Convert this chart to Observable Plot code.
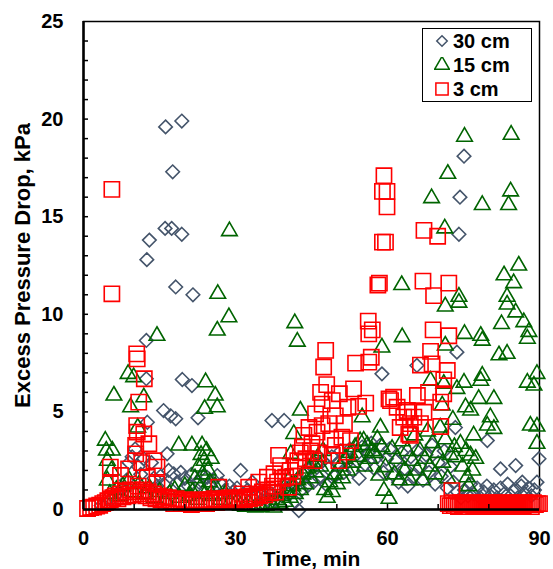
<!DOCTYPE html>
<html><head><meta charset="utf-8">
<script src="https://cdn.jsdelivr.net/npm/d3@7"></script>
<script src="https://cdn.jsdelivr.net/npm/@observablehq/plot@0.6"></script>
<style>
body{margin:0;background:#fff;}
#wrap{position:relative;width:553px;height:569px;font-family:"Liberation Sans",Arial,sans-serif;}
#legend{position:absolute;left:422px;top:28px;width:110px;height:74px;box-sizing:border-box;border:1.5px solid #000;background:#fff;}
.row{height:24px;line-height:24px;display:flex;align-items:center;font-weight:bold;font-size:20px;color:#000;}
.row svg{margin-left:11px;margin-right:3px;}
</style>
</head><body>
<div id="wrap"><div id="legend"></div></div>
<script>
// ---- data (time in min, excess pressure drop in kPa) ----
const seriesNames = ["30 cm", "15 cm", "3 cm"];
const xTicks = [0, 30, 60, 90];
const yTicks = [0, 5, 10, 15, 20, 25];
const xMinor = [10, 20, 30, 40, 50, 60, 70, 80];
const yMinor = [1,2,3,4,5,6,7,8,9,10,11,12,13,14,15,16,17,18,19,20,21,22,23,24];
const xTitle = "Time, min";
const yTitle = "Excess Pressure Drop, kPa";

const s30 = [
[3.5,0.2],[4.5,0.3],[5.5,0.5],[6.3,0.7],[7.0,0.9],[7.8,1.1],[8.5,1.5],[9.0,2.4],[9.6,2.7],[10.2,3.1],[10.8,2.2],[11.3,1.8],[11.9,2.6],[12.6,4.47],[12.4,6.7],[12.4,8.66],[12.5,12.8],[13.0,13.8],[13.4,2.4],[13.9,1.6],[14.5,1.2],
[15.8,5.07],[16.1,14.4],[16.2,19.6],[16.5,2.85],[17.2,4.8],[17.4,14.4],[17.6,17.3],[18.2,4.65],[18.2,11.4],[19.4,14.1],[19.4,19.9],[19.5,6.66],[21.4,6.35],[21.6,11.0],[22.6,4.7],
[15.2,1.7],[15.9,1.3],[16.8,2.0],[17.8,1.83],[18.5,1.4],[19.2,1.9],[20.0,1.6],[20.7,1.2],[21.3,1.8],[22.0,1.1],[22.8,1.4],[23.5,1.7],[24.4,1.65],[25.0,1.2],[25.7,1.5],[26.4,1.74],[27.2,1.3],[28.0,1.0],[28.8,1.2],[29.5,0.9],[30.3,1.1],[31.0,2.0],[31.6,0.8],[32.4,1.0],[33.3,1.4],[34.0,0.7],[34.8,0.9],[35.6,0.6],
[37.2,4.56],[39.6,4.56],[36.4,0.5],[37.0,0.8],[37.8,0.5],[38.5,1.0],[39.2,0.7],[40.0,1.1],[40.6,0.8],[41.2,1.3],[41.8,0.4],[42.4,1.6],[42.5,-0.05],[43.0,1.0],[43.6,1.9],[44.2,1.2],[44.8,2.1],[45.4,1.4],[46.0,2.3],[46.6,1.6],[47.2,2.5],[47.8,1.3],[48.4,2.1],[49.0,2.7],[49.6,1.7],[50.2,2.4],[50.8,3.0],[51.4,1.9],[52.0,2.6],[52.6,3.1],[53.2,2.0],[53.8,2.8],[54.4,1.6],[55.0,3.2],[55.6,2.3],[56.2,2.9],[56.8,3.4],[57.4,2.1],[58.0,2.7],[58.6,3.3],[58.9,6.95],[59.2,1.9],[59.8,2.6],[60.4,3.1],[61.0,1.8],[61.6,2.5],[62.2,1.4],[62.8,2.9],[63.4,2.1],[64.0,1.2],[64.6,2.7],[65.2,1.7],[65.8,7.38],[65.8,3.0],[66.4,2.2],[67.0,1.5],[67.6,2.8],[68.2,1.9],[68.8,3.3],[69.4,1.3],[70.0,2.4],[70.6,1.7],[71.2,3.0],[71.8,1.1],[72.4,2.2],[73.0,1.4],[73.4,4.2],[73.7,8.06],[74.1,14.1],[74.3,16.0],[75.1,18.1],[73.8,0.9],
[74.5,0.6],[75.2,1.0],[75.9,0.7],[76.4,1.3],[77.0,0.8],[77.7,1.1],[78.3,0.6],[79.0,0.9],[79.7,3.53],[79.6,1.2],[80.3,0.7],[81.0,1.0],[81.6,0.6],[82.3,2.08],[82.3,1.1],[83.0,0.8],[83.7,1.3],[84.3,0.7],[85.0,1.0],[85.3,2.25],[85.7,0.6],[86.4,1.2],[86.6,1.4],[87.1,0.8],[87.8,1.1],[88.4,0.7],[89.0,1.0],[89.5,1.4],[89.9,2.6]
];

const s15 = [
[4.3,3.53],[4.5,3.02],[5.7,3.02],[4.7,2.5],[4.7,1.49],[5.5,2.0],[6.0,5.84],[5.2,0.8],[6.5,1.0],[7.2,0.7],[7.8,1.2],[8.8,6.95],[9.9,6.78],[9.3,5.24],[10.7,4.2],[11.9,5.75],[14.5,8.9],[9.0,1.5],[10.0,0.9],[11.0,1.3],[12.0,0.8],[13.0,1.1],[14.0,0.6],[15.0,0.9],[16.0,0.5],[17.0,0.8],
[18.8,3.28],[21.4,3.28],[23.4,3.28],[24.1,6.52],[26.0,5.84],[23.9,5.16],[26.4,5.24],[26.4,9.17],[28.7,9.85],[26.5,11.05],[28.8,14.26],
[18.0,1.0],[19.0,0.6],[20.0,1.2],[20.8,0.7],[21.5,0.9],[22.0,1.6],[22.4,0.5],[22.7,2.2],[23.0,1.1],[23.2,2.8],[23.5,1.8],[23.8,2.5],[24.0,0.8],[24.3,3.0],[24.6,2.0],[24.9,1.4],[25.2,2.6],[25.5,0.7],[26.0,1.2],[27.0,0.5],[28.0,0.8],[29.0,0.4],[30.0,0.3],[31.0,0.2],[32.0,0.15],[33.0,0.2],[34.0,0.1],[35.0,0.15],[36.0,0.2],
[37.0,0.3],[37.6,0.1],[38.2,0.5],[38.8,0.3],[39.3,0.7],[39.8,0.4],[40.3,0.9],[40.5,1.49],[40.9,2.85],[41.5,3.87],[41.7,9.55],[42.2,8.6],[42.8,5.07],[40.8,0.6],[41.3,1.2],[41.8,0.8],[42.3,1.5],[42.8,1.0],[43.3,1.8],[43.8,1.3],[44.3,2.1],[44.8,1.6],[45.3,2.4],[45.8,1.9],[46.3,2.7],[46.8,2.2],[47.3,3.0],[47.6,1.0],[48.1,0.6],[48.6,1.4],[49.1,0.9],[49.6,1.8],[50.1,1.3],[50.6,2.2],[51.1,1.6],[51.6,2.6],[52.1,2.0],[52.6,2.9],[53.1,2.4],[53.6,3.2],[54.1,2.7],[54.6,3.5],[55.0,4.73],[55.3,3.53],[55.5,2.2],[56.0,3.3],[56.5,2.6],[57.0,3.0],[57.5,2.9],[58.0,3.6],[58.3,1.74],[58.6,4.2],[58.9,8.3],[58.9,3.2],[59.3,0.97],[59.6,2.17],[60.3,0.55],[60.9,3.1],[61.4,1.8],[61.9,2.6],[62.4,1.5],[62.8,11.5],[62.9,8.83],[62.9,3.5],[63.4,2.0],[63.9,3.0],[64.4,1.5],[64.9,2.5],[65.4,3.8],[65.9,2.0],[66.4,3.0],[66.9,1.5],[67.4,2.6],[67.9,4.0],[68.4,2.2],[68.5,6.6],[68.7,15.95],[68.9,3.4],[69.4,1.8],[69.9,2.9],[70.4,4.2],[70.8,5.33],[70.9,2.4],[71.1,6.44],[71.3,14.4],[71.4,8.4],[71.4,10.4],[71.4,3.6],[71.9,17.2],[71.9,1.6],[72.4,2.8],[72.9,4.6],[73.2,3.2],[73.4,2.68],[73.7,6.18],[74.1,10.6],[74.1,10.9],[74.4,3.37],[74.8,2.2],[75.1,6.5],[75.2,9.0],[75.2,19.1],[75.4,5.24],[75.5,3.0],[75.7,1.65],[76.0,1.2],[76.4,5.07],[76.4,2.77],[76.8,2.0],[77.0,3.8],[77.4,2.6],[78.0,5.67],[78.4,8.9],[78.4,6.6],[78.7,8.65],[78.7,6.86],[78.7,15.6],[79.7,4.3],[80.3,4.73],[81.0,5.67],[81.0,4.13],[82.0,7.9],[82.5,9.5],[83.0,12.0],[83.6,7.98],[83.6,10.5],[83.6,10.9],[83.9,15.6],[84.3,16.3],[84.4,19.2],[84.9,11.6],[85.3,10.1],[85.9,12.5],[86.9,9.6],[87.6,8.75],[87.6,6.5],[87.9,9.1],[88.2,4.3],[88.9,6.35],[89.5,6.95],[89.5,4.25],[89.5,3.37]
];

const s3 = [
[0.8,0.05],[1.4,0.1],[2.0,0.12],[2.6,0.18],[3.2,0.22],[3.8,0.3],[4.3,0.35],[4.8,0.45],[5.3,0.5],[5.3,1.32],[5.3,2.17],[5.6,11.05],[5.6,16.4],
[5.8,0.6],[6.3,0.7],[6.8,0.55],[7.3,0.8],[7.3,1.74],[7.8,0.65],[8.3,0.9],[8.9,2.08],[8.8,0.7],[9.3,1.0],[9.8,0.75],[10.3,2.85],[10.3,3.28],[10.3,0.9],[10.5,7.97],[10.6,7.72],[10.6,3.96],[10.5,4.3],[10.9,5.5],[10.8,1.2],[11.3,0.8],[11.5,2.4],[11.8,1.0],[11.9,3.87],[12.0,6.7],[12.3,0.7],[12.6,1.65],[12.8,0.9],[12.9,3.37],[13.3,0.6],[13.9,2.5],[13.8,0.8],[14.3,0.55],[14.5,2.17],[14.5,1.32],[14.8,0.7],
[15.3,0.5],[15.8,0.65],[16.3,0.4],[16.8,0.6],[17.3,0.45],[17.8,0.3],[18.3,0.55],[18.8,0.4],[19.3,0.3],[19.8,0.5],[20.3,0.35],[20.8,0.45],[21.3,0.25],[21.8,0.4],[22.3,0.3],[22.8,0.5],[23.3,0.35],[23.8,0.45],[24.3,0.3],[24.8,0.5],[25.3,0.4],[25.8,0.55],[26.3,0.35],[26.7,1.14],[26.8,0.5],[27.3,0.4],[27.8,0.55],[28.3,0.45],[28.8,0.6],[29.3,0.4],[29.8,0.55],[30.3,0.45],[30.8,0.6],[31.3,0.8],[31.8,0.5],[32.3,0.65],[32.6,1.14],[32.8,0.55],[33.3,0.7],[33.8,0.6],[34.3,0.8],[34.6,1.4],[34.8,0.7],[35.3,0.9],[35.8,0.75],[36.3,1.65],[36.3,1.0],[36.8,0.85],
[37.3,1.2],[37.6,1.83],[37.9,0.89],[38.3,1.4],[38.5,2.77],[38.9,2.25],[39.3,1.6],[39.9,1.65],[40.5,1.14],[40.8,2.0],[41.3,1.7],[41.8,2.17],[42.3,2.5],[42.8,2.9],[43.2,3.2],[43.5,3.8],[43.9,2.6],[44.5,4.2],[44.8,3.0],[45.1,3.37],[45.5,2.5],[45.8,4.9],[46.1,3.96],[46.4,2.9],[46.8,6.0],[47.1,4.3],[47.1,5.4],[47.4,7.3],[47.8,8.15],[48.0,6.4],[48.4,4.4],[48.8,3.6],[49.1,5.58],[49.1,2.77],[49.7,4.8],[49.7,3.28],[50.4,2.5],[50.5,5.93],[51.0,3.7],[51.5,4.4],[52.0,2.94],[52.2,5.24],[52.7,3.53],[53.3,6.18],[53.7,7.5],[54.3,5.28],[55.7,5.45],
[56.2,9.65],[56.3,9.0],[57.0,9.2],[56.3,7.55],[56.8,7.8],[58.1,11.5],[58.4,11.6],[59.0,13.7],[59.6,13.7],[59.9,15.5],[59.0,16.3],[59.9,16.3],[59.3,17.1],
[60.3,5.67],[60.6,5.58],[61.2,5.75],[61.9,5.24],[62.5,4.2],[63.2,4.73],[63.9,5.07],[63.9,4.98],[64.2,3.87],[64.5,4.4],[64.5,3.8],[65.2,4.73],[65.9,5.84],[66.5,4.4],[66.5,7.4],[67.2,4.98],[67.0,11.7],[67.2,14.3],[68.1,6.0],[68.5,8.1],[68.8,7.46],[69.0,9.2],[69.1,10.96],[69.9,14.0],[70.5,5.5],[70.5,4.25],[71.1,5.93],[71.1,6.64],[71.8,7.12],[72.1,8.9],[72.1,11.6],[72.7,0.97],
[72.0,0.3],[72.4,0.2],[72.8,0.35],[73.2,0.2],[73.6,0.3],[74.0,0.15],[74.4,0.35],[74.8,0.25],[75.2,0.3],[75.6,0.15],[76.0,0.35],[76.4,0.25],[76.8,0.3],[77.2,0.2],[77.6,0.35],[78.0,0.25],[78.4,0.3],[78.8,0.15],[79.2,0.35],[79.6,0.25],[80.0,0.3],[80.4,0.2],[80.8,0.35],[81.2,0.25],[81.6,0.3],[82.0,0.15],[82.4,0.35],[82.8,0.25],[83.2,0.3],[83.6,0.2],[84.0,0.35],[84.4,0.25],[84.8,0.3],[85.2,0.15],[85.6,0.35],[86.0,0.25],[86.4,0.3],[86.8,0.2],[87.2,0.35],[87.6,0.25],[88.0,0.3],[88.4,0.15],[88.8,0.35],[89.2,0.25],[89.6,0.3],[90.0,0.3]
];

// ---- styling ----
const colors = ["#44546A", "#006400", "#FF0000"];
const symbols = ["diamond2", "triangle", "square"];
const radii = [6.1, 5.8, 8.6];
const W = 553, H = 569, mL = 83, mR = 14, mT = 21, mB = 60;
const font = '"Liberation Sans", Arial, sans-serif';
const plotW = W - mL - mR, plotH = H - mT - mB;

const dotOpts = (i) => ({x: d => d[0], y: d => d[1], symbol: symbols[i], r: radii[i], stroke: colors[i], fill: "none", strokeWidth: 1.6});

const chart = Plot.plot({
  width: W, height: H, marginLeft: mL, marginRight: mR, marginTop: mT, marginBottom: mB,
  x: {domain: [0, 90]},
  y: {domain: [0, 25]},
  style: {fontFamily: font, fontWeight: "bold", fontSize: "20px", color: "#000", background: "#fff", overflow: "visible"},
  marks: [
    Plot.frame({stroke: "#000", strokeWidth: 1.5}),
    Plot.dot(s30, dotOpts(0)),
    Plot.dot(s15, dotOpts(1)),
    Plot.dot(s3, dotOpts(2)),
    Plot.tickY(yMinor, {y: d => d, insetRight: plotW - 5, stroke: "#000", strokeWidth: 1.5}),
    Plot.tickX(xMinor, {x: d => d, insetTop: plotH - 5, stroke: "#000", strokeWidth: 1.5}),
    Plot.ruleX([0], {stroke: "#000", strokeWidth: 2.5}),
    Plot.ruleY([0], {stroke: "#000", strokeWidth: 2.5}),
    Plot.axisX({ticks: xTicks, tickSize: 0, tickPadding: 21, tickFormat: d => String(d), label: null, fontSize: 20, fontWeight: "bold"}),
    Plot.axisY({ticks: yTicks, tickSize: 0, tickPadding: 20, tickFormat: d => String(d), label: null, fontSize: 20, fontWeight: "bold"}),
    Plot.text([yTitle], {text: d => d, frameAnchor: "left", dx: -61, rotate: -90, fontSize: 22, fontWeight: "bold", textAnchor: "middle", lineAnchor: "middle"}),
    Plot.text([xTitle], {text: d => d, frameAnchor: "bottom", dy: 50, fontSize: 21, fontWeight: "bold", textAnchor: "middle", lineAnchor: "middle"})
  ]
});
document.getElementById("wrap").prepend(chart);

// ---- legend ----
const legend = document.getElementById("legend");
const legendSizes = [70, 95, 150];
seriesNames.forEach((name, i) => {
  const row = document.createElement("div");
  row.className = "row";
  const svg = d3.create("svg").attr("width", 16).attr("height", 16);
  const symType = [d3.symbolDiamond2, d3.symbolTriangle, d3.symbolSquare][i];
  svg.append("path")
    .attr("transform", "translate(8,8)")
    .attr("d", d3.symbol(symType, legendSizes[i])())
    .attr("fill", "none").attr("stroke", colors[i]).attr("stroke-width", 1.5);
  row.appendChild(svg.node());
  const span = document.createElement("span");
  span.textContent = name;
  row.appendChild(span);
  legend.appendChild(row);
});
</script>
</body></html>
